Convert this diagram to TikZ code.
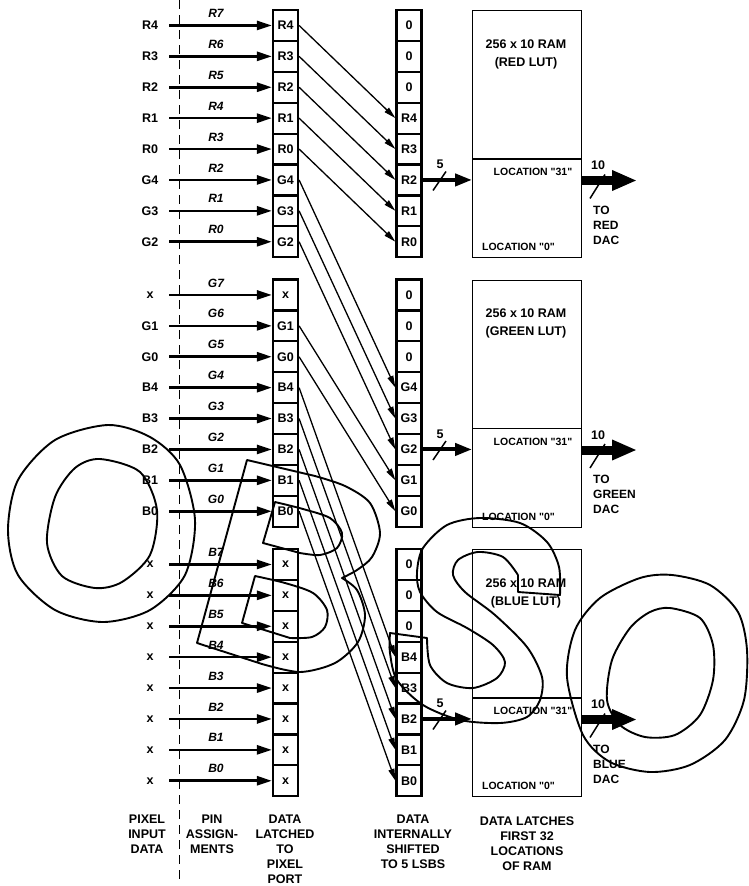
\documentclass[tikz,border=0pt]{standalone}
\usepackage{fontspec}
\setmainfont{Liberation Sans}
\usetikzlibrary{arrows.meta, calc}

\begin{document}
\begin{tikzpicture}[x=1pt, y=-1pt,
  lbl/.style={font=\fontsize{12.5}{14}\selectfont\bfseries, inner sep=0pt},
  pinlbl/.style={font=\fontsize{12}{13}\selectfont\bfseries\itshape, inner sep=0pt},
  loclbl/.style={font=\fontsize{10.5}{12}\selectfont\bfseries, inner sep=0pt},
  caption/.style={font=\fontsize{12.5}{14.8}\selectfont\bfseries, inner sep=0pt, align=center, anchor=north},
  cell/.style={draw, line width=2.2pt, minimum width=25pt, minimum height=30.9pt, inner sep=0pt, font=\fontsize{12.5}{14}\selectfont\bfseries},
  ramblock/.style={draw, line width=1pt, minimum width=109pt, minimum height=247pt, anchor=north west},
  pinarrow/.style={line width=2.6pt, -{Triangle[length=15pt,width=9pt]}},
  shiftarrow/.style={line width=1.3pt, -{Triangle[length=12pt,width=6pt]}},
  busarrow/.style={line width=4pt, -{Triangle[length=17pt,width=12pt]}},
  outarrow/.style={line width=9pt, -{Triangle[length=25pt,width=19pt]}},
  slash/.style={line width=1.5pt},
  stamp/.style={line width=1.9pt, line join=round}]
  \useasboundingbox (0,0) rectangle (749,886);

  % pixel port / pin split
  \draw[line width=1pt, dash pattern=on 9pt off 6pt] (179,0) -- (179,880);

  % three colour groups
  \foreach \g/\ins/\pre/\col in {1/{R4,R3,R2,R1,R0,G4,G3,G2}/R/RED,
      2/{x,G1,G0,B4,B3,B2,B1,B0}/G/GREEN, 3/{x,x,x,x,x,x,x,x}/B/BLUE} {
    \pgfmathsetmacro\T{10+(\g-1)*269.5}
    \foreach \lab [count=\i from 0] in \ins {
      \pgfmathsetmacro\y{\T+15.45+\i*30.9}
      \pgfmathtruncatemacro\bit{7-\i}
      \node[lbl] (in-\g-\i) at (150,\y) {\lab};
      \coordinate (src-\g-\i) at (169,\y);
      \node[cell] (port-\g-\i) at (285.5,\y) {\lab};
      \node[cell] (shift-\g-\i) at (409,\y) {\ifnum\i<3 0\else\pre\bit\fi};
      \node[pinlbl] (pin-\g-\i) at (216,\y-12) {\pre\bit};
      \draw[pinarrow] (src-\g-\i) -- (port-\g-\i.west);
    }
    % RAM block
    \node[ramblock] (ram-\g) at (472,\T) {};
    \draw[line width=1.6pt] ($(ram-\g.north west)+(0,149)$) -- ($(ram-\g.north east)+(0,149)$);
    \node[lbl, align=center, font=\fontsize{12.5}{18}\selectfont\bfseries] (lut-\g) at (526,\T+44) {256 x 10 RAM\\(\col\ LUT)};
    \node[loclbl] (top-\g) at (533,\T+162) {LOCATION \textquotedbl 31\textquotedbl};
    \node[loclbl] (bot-\g) at (518.5,\T+237) {LOCATION \textquotedbl 0\textquotedbl};
    % 5 bit bus in, 10 bit bus out
    \pgfmathsetmacro\yb{\T+170.5}
    \draw[busarrow] (shift-\g-5.east) -- (ram-\g.west |- shift-\g-5);
    \draw[slash] (433,\yb+10) -- (446,\yb-9);
    \node[lbl] (five-\g) at (440,\yb-16) {5};
    \coordinate (dac-\g) at (637,\yb);
    \draw[outarrow] (ram-\g.east |- dac-\g) -- (dac-\g);
    \draw[slash] (590,\yb+18) -- (605,\yb-6);
    \node[lbl] (ten-\g) at (598,\yb-15) {10};
    \node[lbl, align=left, anchor=north west, font=\fontsize{12}{15}\selectfont\bfseries] (to-\g) at (593,\yb+25) {TO\\\col\\DAC};
  }

  % bits shifted down to the 5 LSBs
  \foreach \a/\b in {1-0/1-3, 1-1/1-4, 1-2/1-5, 1-3/1-6, 1-4/1-7, 1-5/2-3, 1-6/2-4, 1-7/2-5,
      2-1/2-6, 2-2/2-7, 2-3/3-3, 2-4/3-4, 2-5/3-5, 2-6/3-6, 2-7/3-7}
    \draw[shiftarrow] (port-\a.east) -- (shift-\b.west);

  % column captions
  \node[caption] (cap-in) at (147,815) {PIXEL\\INPUT\\DATA};
  \node[caption] (cap-pin) at (212,815) {PIN\\ASSIGN-\\MENTS};
  \node[caption] (cap-port) at (285,815) {DATA\\LATCHED\\TO\\PIXEL\\PORT};
  \node[caption] (cap-shift) at (413,815) {DATA\\INTERNALLY\\SHIFTED\\TO 5 LSBS};
  \node[caption] (cap-ram) at (527,817) {DATA LATCHES\\FIRST 32\\LOCATIONS\\OF RAM};

  % OBSO stamp
  \draw[stamp] plot[smooth cycle] coordinates {(108,425) (150,437) (180,465) (195,520) (185,575) (150,610) (103,622) (55,610) (18,575) (8,530) (18,480) (55,440)};
  \draw[stamp] plot[smooth cycle] coordinates {(100,459) (140,472) (157,510) (150,555) (122,582) (95,588) (62,576) (47,543) (55,497) (75,468)};
  \draw[stamp] (247,460) -- (315,476) -- plot[smooth] coordinates {(315,476) (345,486) (370,503) (380,533) (372,557) (357,570) (342,578)}
    -- plot[smooth] coordinates {(342,578) (357,590) (365,615) (358,642) (335,663) (300,672) (262,664)} -- (197,643) -- cycle;
  \draw[stamp] (275,502) -- plot[smooth] coordinates {(275,502) (303,509) (330,518) (342,533) (337,548) (320,555) (300,553)} -- (263,543) -- cycle;
  \draw[stamp] (255,576) -- plot[smooth] coordinates {(255,576) (285,583) (313,593) (327,610) (325,627) (312,637) (290,638)} -- (242,623) -- cycle;
  \draw[stamp] (518,575) -- (518,592) -- (560,595) -- plot[smooth] coordinates {(560,595) (559,567) (547,542) (520,523) (480,518) (447,525) (423,548) (417,572) (420,592) (437,612) (467,628) (493,645) (505,662) (497,678) (473,688) (447,683) (430,665) (427,638)}
    -- (390,633) -- plot[smooth] coordinates {(390,633) (390,653) (397,680) (423,705) (460,720) (500,723) (527,717) (540,700) (542,677) (527,647) (495,615) (465,592) (453,575) (458,560) (478,552) (503,557) (518,575)};
  \draw[stamp] plot[smooth cycle] coordinates {(567,677) (575,630) (600,598) (640,578) (672,575) (710,585) (738,612) (747,650) (744,700) (725,740) (690,765) (650,772) (610,762) (583,735)};
  \draw[stamp] plot[smooth cycle] coordinates {(670,608) (700,618) (713,645) (713,680) (700,715) (675,735) (645,737) (620,725) (607,700) (612,660) (630,628) (650,612)};
\end{tikzpicture}
\end{document}
